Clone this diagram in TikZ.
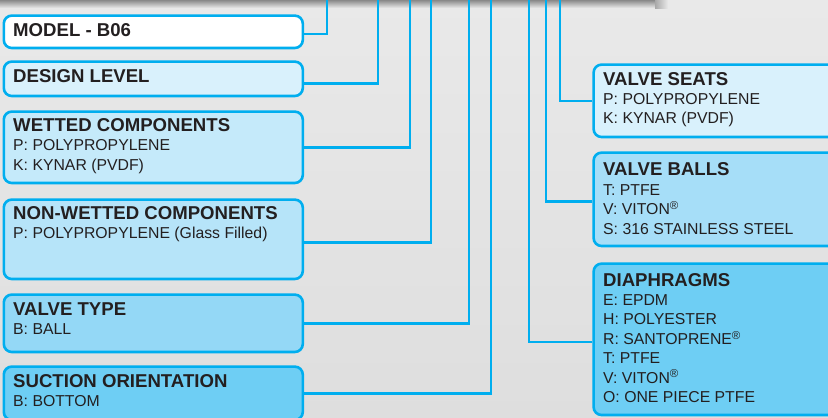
\documentclass[tikz,border=0pt]{standalone}
\usepackage{fontspec}
\setmainfont{Liberation Sans}
\usetikzlibrary{positioning}

\definecolor{pumpcyan}{RGB}{0,174,239}
\definecolor{textdark}{RGB}{35,31,32}
\definecolor{bgtop}{RGB}{233,233,233}
\definecolor{bgbottom}{RGB}{222,222,222}
\definecolor{shadowgray}{RGB}{125,125,125}
\definecolor{fillA}{RGB}{217,241,252}
\definecolor{fillB}{RGB}{197,234,250}
\definecolor{fillC}{RGB}{182,228,249}
\definecolor{fillD}{RGB}{148,216,246}
\definecolor{fillE}{RGB}{110,206,244}
\definecolor{fillF}{RGB}{166,222,248}

\newcommand{\boxtitle}[1]{{\fontsize{18.6}{19.4}\selectfont\bfseries #1}}
\newcommand{\regmark}{\textsuperscript{\fontsize{11.5}{11.5}\selectfont ®}}

\begin{document}
\begin{tikzpicture}[x=1pt, y=-1pt,
    codebox/.style={draw=pumpcyan, line width=2.6pt, rounded corners=8pt, anchor=north west, inner sep=0pt},
    boxtext/.style={anchor=north west, inner sep=0pt, align=left, text=textdark, font=\fontsize{15.8}{19.4}\selectfont},
    link/.style={draw=pumpcyan, line width=2.6pt}]

\useasboundingbox (0,0) rectangle (828,418);
\shade[top color=bgtop, bottom color=bgbottom] (-2,-2) rectangle (830,420);
% shadow of the plate above
\shade[top color=shadowgray, bottom color=bgtop] (0,-1) rectangle (655,8);
\shade[left color=shadowgray!60!bgtop, right color=bgtop] (655,-1) rectangle (668,8);

% left column
\node[codebox, fill=white, minimum width=299, minimum height=32.4] (model) at (2.5,14.3) {};
\node[codebox, fill=fillA, minimum width=299, minimum height=34.4] (design) at (2.5,60.3) {};
\node[codebox, fill=fillB, minimum width=299, minimum height=71.4] (wetted) at (2.5,110.3) {};
\node[codebox, fill=fillC, minimum width=299, minimum height=79.4] (nonwet) at (2.5,198.3) {};
\node[codebox, fill=fillD, minimum width=299, minimum height=57.4] (vtype) at (2.5,293.3) {};
\node[codebox, fill=fillE, minimum width=299, minimum height=53.4] (suction) at (2.5,365.3) {};

\node[boxtext] (model-txt) at ([xshift=10.5pt, yshift=-9pt]model.north west) {\boxtitle{MODEL - B06}};
\node[boxtext] (design-txt) at ([xshift=10.5pt, yshift=-9pt]design.north west) {\boxtitle{DESIGN LEVEL}};
\node[boxtext] (wetted-txt) at ([xshift=10.5pt, yshift=-8pt]wetted.north west) {\boxtitle{WETTED COMPONENTS}\\P: POLYPROPYLENE\\K: KYNAR (PVDF)};
\node[boxtext] (nonwet-txt) at ([xshift=10.5pt, yshift=-8pt]nonwet.north west) {\boxtitle{NON-WETTED COMPONENTS}\\P: POLYPROPYLENE (Glass Filled)};
\node[boxtext] (vtype-txt) at ([xshift=10.5pt, yshift=-8.7pt]vtype.north west) {\boxtitle{VALVE TYPE}\\B: BALL};
\node[boxtext] (suction-txt) at ([xshift=10.5pt, yshift=-8.7pt]suction.north west) {\boxtitle{SUCTION ORIENTATION}\\B: BOTTOM};

% right column
\node[codebox, fill=fillA, minimum width=260, minimum height=72.4] (seats) at (592.3,63.3) {};
\node[codebox, fill=fillF, minimum width=260, minimum height=93.4] (balls) at (592.3,151.3) {};
\node[codebox, fill=fillE, minimum width=260, minimum height=151.4] (diaph) at (592.3,262.3) {};

\node[boxtext] (seats-txt) at ([xshift=10.7pt, yshift=-8.7pt]seats.north west) {\boxtitle{VALVE SEATS}\\P: POLYPROPYLENE\\K: KYNAR (PVDF)};
\node[boxtext] (balls-txt) at ([xshift=10.7pt, yshift=-11.4pt]balls.north west) {\boxtitle{VALVE BALLS}\\T: PTFE\\V: VITON\regmark\\S: 316 STAINLESS STEEL};
\node[boxtext] (diaph-txt) at ([xshift=10.7pt, yshift=-10.7pt]diaph.north west) {\boxtitle{DIAPHRAGMS}\\E: EPDM\\H: POLYESTER\\R: SANTOPRENE\regmark\\T: PTFE\\V: VITON\regmark\\O: ONE PIECE PTFE};

% connectors up to the plate
\foreach \b/\x/\dy in {model/327/-2, design/378/-4.5, wetted/410/0, nonwet/431/-3, vtype/469/0, suction/491/0}{
  \coordinate (\b-top) at (\x,-2);
  \draw[link] ([yshift=\dy pt]\b.east) -| (\b-top);
}
\foreach \b/\x/\dy in {seats/560/0, balls/546/-2, diaph/529/-2.5}{
  \coordinate (\b-top) at (\x,-2);
  \draw[link] ([yshift=\dy pt]\b.west) -| (\b-top);
}
\end{tikzpicture}
\end{document}
